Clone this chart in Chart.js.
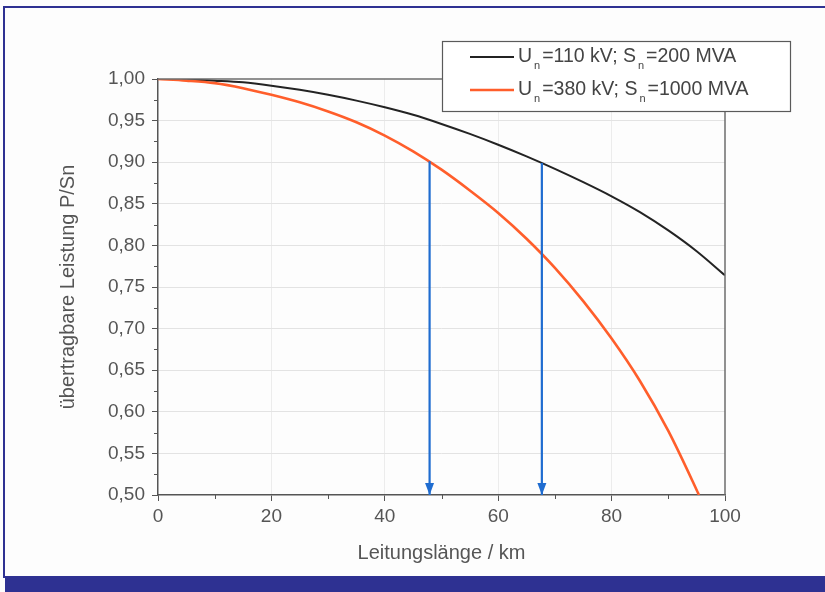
<!DOCTYPE html>
<html>
<head>
<meta charset="utf-8">
<script src="https://cdn.jsdelivr.net/npm/chart.js@4/dist/chart.umd.min.js"></script>
<style>
  html, body { margin: 0; padding: 0; background: #fdfdfd; }
  #wrap { position: relative; width: 825px; height: 592px; overflow: hidden; background: #fdfdfd; }
  #c { position: absolute; left: 0; top: 0; }
  .blue { position: absolute; background: #2e3192; }
</style>
</head>
<body>
<div id="wrap">
  <canvas id="c" width="825" height="592"></canvas>
  <div class="blue" style="left:3px; top:6px; width:822px; height:2px;"></div>
  <div class="blue" style="left:3px; top:6px; width:2px; height:572px;"></div>
  <div class="blue" style="left:5px; top:576px; width:820px; height:16px;"></div>
</div>
<script>
// ---- data ----
const km110 = [0, 5, 10, 15, 20, 25, 30, 35, 40, 45, 50, 55, 60, 65, 70, 75, 80, 85, 90, 95, 100];
const p110  = [1.000, 0.9995, 0.998, 0.996, 0.992, 0.987, 0.981, 0.974, 0.966, 0.957, 0.946, 0.934, 0.921, 0.907, 0.892, 0.876, 0.859, 0.840, 0.818, 0.793, 0.764];

const km380 = [0, 5, 10, 15, 20, 25, 30, 35, 40, 45, 50, 55, 60, 65, 70, 75, 80, 85, 90, 95, 95.4];
const p380  = [1.000, 0.998, 0.995, 0.989, 0.981, 0.972, 0.961, 0.948, 0.932, 0.913, 0.891, 0.866, 0.839, 0.808, 0.773, 0.733, 0.688, 0.637, 0.577, 0.506, 0.500];

const arrowKm    = [47.9, 67.7];
const arrowStart = [0.901, 0.899];
const arrowEnd   = [0.50, 0.50];

const seriesLabels = ['Un=110 kV; Sn=200 MVA', 'Un=380 kV; Sn=1000 MVA'];
// legend text parts: normal, subscript, normal, subscript, normal
const legendParts = [
  ['U', 'n', '=110 kV; S', 'n', '=200 MVA'],
  ['U', 'n', '=380 kV; S', 'n', '=1000 MVA']
];
const xTitle = 'Leitungslänge / km';
const yTitle = 'übertragbare Leistung P/Sn';
const xMin = 0, xMax = 100, xStep = 20;
const yMin = 0.5, yMax = 1.0, yStep = 0.05;

const colors = ['#232323', '#ff5e2b'];
const arrowColor = '#1f6cd0';
const FONT = '"Liberation Sans", Arial, sans-serif';

function pts(xs, ys) { return xs.map((x, i) => ({x: x, y: ys[i]})); }

const datasets = [
  { label: seriesLabels[0], data: pts(km110, p110), borderColor: colors[0], borderWidth: 2, cubicInterpolationMode: 'monotone', pointRadius: 0, showLine: true, order: 3 },
  { label: seriesLabels[1], data: pts(km380, p380), borderColor: colors[1], borderWidth: 2.6, cubicInterpolationMode: 'monotone', pointRadius: 0, showLine: true, order: 2 }
];
arrowKm.forEach((k, i) => {
  datasets.push({ label: 'arrow' + i, arrow: true, data: [{x: k, y: arrowStart[i]}, {x: k, y: arrowEnd[i]}],
    borderColor: arrowColor, borderWidth: 2.2, pointRadius: 0, showLine: true, order: 1 });
});

const framePlugin = {
  id: 'frame',
  afterDatasetsDraw(chart) {
    const ctx = chart.ctx;
    chart.data.datasets.forEach((ds, i) => {
      if (!ds.arrow) return;
      const meta = chart.getDatasetMeta(i);
      const el = meta.data[meta.data.length - 1];
      ctx.save();
      ctx.fillStyle = ds.borderColor;
      ctx.beginPath();
      ctx.moveTo(el.x, el.y);
      ctx.lineTo(el.x - 4.5, el.y - 12);
      ctx.lineTo(el.x + 4.5, el.y - 12);
      ctx.closePath();
      ctx.fill();
      ctx.restore();
    });
  },
  afterDraw(chart) {
    const ctx = chart.ctx;
    const a = chart.chartArea;
    const xs = chart.scales.x, ys = chart.scales.y;
    ctx.save();
    ctx.strokeStyle = '#6e6e6e';
    ctx.lineWidth = 1.5;
    ctx.beginPath();
    ctx.moveTo(a.left, a.top); ctx.lineTo(a.right, a.top); ctx.lineTo(a.right, a.bottom);
    ctx.stroke();
    ctx.strokeStyle = '#555';
    ctx.lineWidth = 1;
    ctx.beginPath();
    for (let i = 0; i < ys.ticks.length - 1; i++) {
      const v = (ys.ticks[i].value + ys.ticks[i + 1].value) / 2;
      const py = Math.round(ys.getPixelForValue(v)) + 0.5;
      ctx.moveTo(a.left, py); ctx.lineTo(a.left - 4, py);
    }
    for (let i = 0; i < xs.ticks.length - 1; i++) {
      const v = (xs.ticks[i].value + xs.ticks[i + 1].value) / 2;
      const px = Math.round(xs.getPixelForValue(v)) + 0.5;
      ctx.moveTo(px, a.bottom); ctx.lineTo(px, a.bottom + 4);
    }
    ctx.stroke();

    const bx = 442, by = 41, bw = 348, bh = 70;
    ctx.fillStyle = '#ffffff';
    ctx.fillRect(bx, by, bw, bh);
    ctx.strokeStyle = '#5a5a5a';
    ctx.lineWidth = 1.2;
    ctx.strokeRect(bx + 0.5, by + 0.5, bw, bh);
    const rowsY = [57, 90];
    legendParts.forEach((parts, r) => {
      const y = rowsY[r];
      ctx.strokeStyle = colors[r];
      ctx.lineWidth = r === 0 ? 2 : 2.6;
      ctx.beginPath();
      ctx.moveTo(470, y); ctx.lineTo(514, y);
      ctx.stroke();
      let x = 518;
      ctx.fillStyle = '#444';
      ctx.textBaseline = 'middle';
      ctx.textAlign = 'left';
      parts.forEach((p, j) => {
        if (j % 2 === 1) {
          ctx.font = '11px ' + FONT;
          ctx.fillText(p, x + 2, y + 9);
          x += ctx.measureText(p).width + 4;
        } else {
          ctx.font = '19.5px ' + FONT;
          ctx.fillText(p, x, y);
          x += ctx.measureText(p).width;
        }
      });
    });
    ctx.restore();
  }
};

new Chart(document.getElementById('c'), {
  type: 'scatter',
  data: { datasets: datasets },
  options: {
    responsive: false,
    animation: false,
    layout: { padding: { left: 0, right: 100, top: 79, bottom: 0 } },
    plugins: { legend: { display: false }, tooltip: { enabled: false } },
    scales: {
      x: {
        type: 'linear', min: xMin, max: xMax,
        afterFit(s) { s.height = 97; },
        ticks: { stepSize: xStep, padding: 4, color: '#555', font: { family: FONT, size: 19 } },
        grid: { color: (c) => (c.tick && (c.tick.value === xMin || c.tick.value === xMax)) ? 'rgba(0,0,0,0)' : '#ececec',
                tickColor: '#555', tickLength: 6, lineWidth: 1 },
        border: { display: true, color: '#555', width: 1.5 },
        title: { display: true, text: xTitle, color: '#555', font: { family: FONT, size: 20 }, padding: { top: 0, bottom: 27 } }
      },
      y: {
        type: 'linear', min: yMin, max: yMax,
        afterFit(s) { s.width = 158; },
        ticks: { stepSize: yStep, padding: 7, color: '#555', font: { family: FONT, size: 19 },
                 callback: (v) => v.toFixed(2).replace('.', ',') },
        grid: { color: (c) => (c.tick && (Math.abs(c.tick.value - yMin) < 1e-9 || Math.abs(c.tick.value - yMax) < 1e-9)) ? 'rgba(0,0,0,0)' : '#e3e3e3',
                tickColor: '#555', tickLength: 6, lineWidth: 1 },
        border: { display: true, color: '#555', width: 1.5 },
        title: { display: true, text: yTitle, color: '#555', font: { family: FONT, size: 20 }, padding: { top: 56, bottom: 0 } }
      }
    }
  },
  plugins: [framePlugin]
});
</script>
</body>
</html>
